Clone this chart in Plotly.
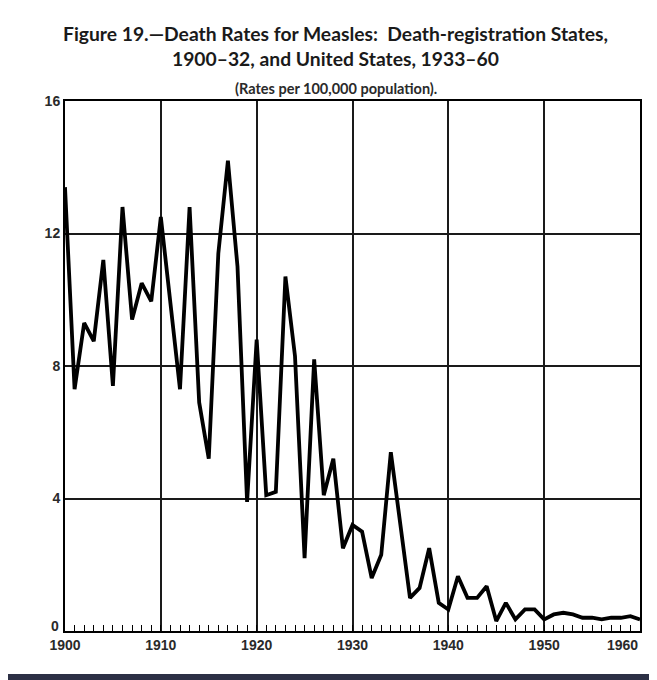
import plotly.graph_objects as go

# Measles death rates per 100,000 population
years = list(range(1900, 1961))
rates = [
    13.4, 7.3, 9.3, 8.75, 11.2, 7.4, 12.8, 9.4, 10.5, 9.95,
    12.5, 9.9, 7.3, 12.8, 6.9, 5.2, 11.4, 14.2, 11.0, 3.9,
    8.8, 4.1, 4.2, 10.7, 8.3, 2.2, 8.2, 4.1, 5.2, 2.5,
    3.2, 3.0, 1.6, 2.3, 5.4, 3.2, 1.0, 1.3, 2.5, 0.85,
    0.65, 1.65, 1.0, 1.0, 1.35, 0.3, 0.85, 0.35, 0.65, 0.65,
    0.35, 0.5, 0.55, 0.5, 0.4, 0.4, 0.35, 0.4, 0.4, 0.45,
    0.35,
]

x_ticks = [1900, 1910, 1920, 1930, 1940, 1950]
y_ticks = [4, 8, 12, 16]

title_1 = "Figure 19.\u2014Death Rates for Measles:  Death-registration States,"
title_2 = "1900\u201332, and United States, 1933\u201360"
subtitle = "(Rates per 100,000 population)."

title_font = "Lato, Roboto, Liberation Sans, sans-serif"
tick_font = dict(family="Liberation Sans, Arial, sans-serif", size=14,
                 color="#2a2a2a", weight="bold")

# the page body adds an 8px offset, so the figure is 8px smaller than the window
fig = go.Figure(
    layout=go.Layout(
        width=649,
        height=672,
        margin=dict(l=57, r=17, t=93, b=49),
        paper_bgcolor="white",
        plot_bgcolor="white",
        showlegend=False,
    ))

fig.add_trace(
    go.Scatter(
        x=years,
        y=rates,
        mode="lines",
        line=dict(color="black", width=3.8),
        hoverinfo="x+y"))

fig.update_xaxes(
    range=[1900, 1960],
    tickvals=x_ticks,
    tickfont=tick_font,
    showgrid=True,
    gridcolor="#1a1a1a",
    gridwidth=1.5,
    zeroline=False,
    showline=True,
    linecolor="black",
    linewidth=2,
    mirror=True,
    ticks="inside",
    ticklen=5,
    tickcolor="black",
    minor=dict(dtick=1, ticks="inside", ticklen=6, tickcolor="black",
               tickwidth=1.3, showgrid=False))

fig.update_yaxes(
    range=[0, 16],
    tickvals=y_ticks,
    tickfont=tick_font,
    showgrid=True,
    gridcolor="#1a1a1a",
    gridwidth=1.5,
    zeroline=False,
    showline=True,
    linecolor="black",
    linewidth=2,
    mirror=True,
    ticks="")

# the zero label sits a little above the axis, the last year flush right
fig.add_annotation(
    x=0, y=0, xref="paper", yref="y",
    text="0", showarrow=False,
    xanchor="right", yanchor="middle", xshift=-4, yshift=5,
    font=tick_font)
fig.add_annotation(
    x=1960, y=0, xref="x", yref="paper",
    text="1960", showarrow=False,
    xanchor="right", yanchor="top", yshift=-4,
    font=tick_font)

fig.add_annotation(
    x=0.471, y=1.153, xref="paper", yref="paper",
    text="<b>" + title_1 + "</b>", showarrow=False,
    font=dict(family=title_font, size=19.3, color="#1a1a1a"))
fig.add_annotation(
    x=0.471, y=1.1057, xref="paper", yref="paper",
    text="<b>" + title_2 + "</b>", showarrow=False,
    font=dict(family=title_font, size=19.3, color="#1a1a1a"))
fig.add_annotation(
    x=0.471, y=1.043, xref="paper", yref="paper",
    text="<b>" + subtitle + "</b>", showarrow=False,
    font=dict(family=title_font, size=14.5, color="#2a2a2a"))

# scan edge artefact: dark band along the bottom
fig.add_shape(type="rect", xref="paper", yref="paper",
              x0=-0.12, x1=1.04, y0=-0.095, y1=-0.0811,
              fillcolor="#2c3045", line=dict(width=0), layer="above")

fig.write_html("out.html")
